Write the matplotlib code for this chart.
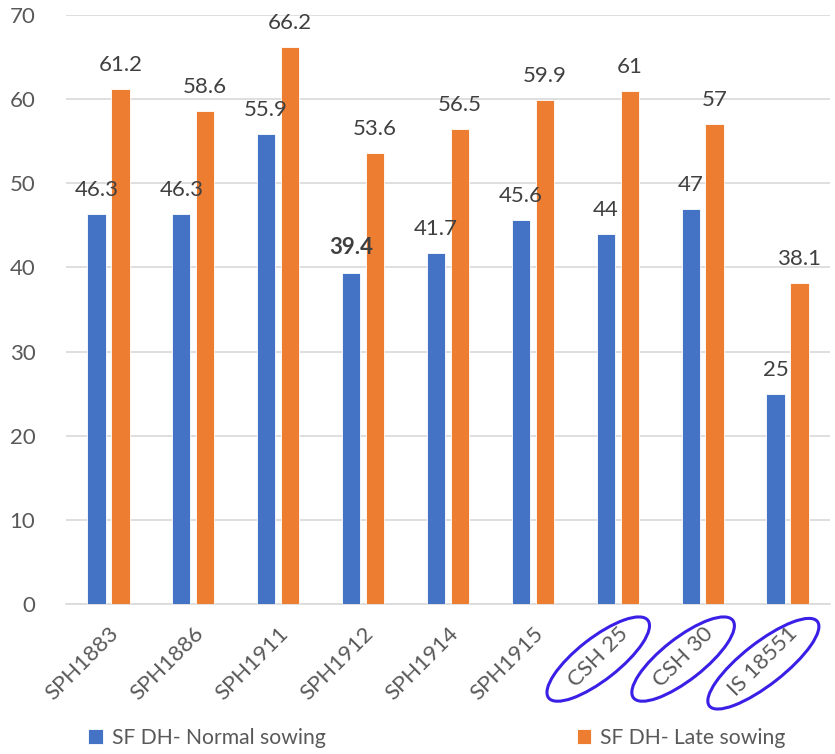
import matplotlib.pyplot as plt
from matplotlib.patches import Ellipse
import numpy as np

plt.rcParams['font.family'] = ['Lato', 'DejaVu Sans']

# data
genotypes = ['SPH1883', 'SPH1886', 'SPH1911', 'SPH1912', 'SPH1914', 'SPH1915',
             'CSH 25', 'CSH 30', 'IS 18551']
normal_sowing = [46.3, 46.3, 55.9, 39.4, 41.7, 45.6, 44, 47, 25]
late_sowing = [61.2, 58.6, 66.2, 53.6, 56.5, 59.9, 61, 57, 38.1]
circled = ['CSH 25', 'CSH 30', 'IS 18551']

blue = '#4472C4'
orange = '#ED7D31'
txt = '#595959'

fig = plt.figure(figsize=(8.35, 7.54), dpi=100)
ax = fig.add_axes([0.079, 0.199, 0.915, 0.781])

x = np.arange(len(genotypes))
w = 0.215
off = 0.141
b1 = ax.bar(x - off, normal_sowing, w, color=blue, edgecolor='white', lw=0.6,
            label='SF DH- Normal sowing', zorder=3)
b2 = ax.bar(x + off, late_sowing, w, color=orange, edgecolor='white', lw=0.6,
            label='SF DH- Late sowing', zorder=3)

for bars, vals in [(b1, normal_sowing), (b2, late_sowing)]:
    for rect, v in zip(bars, vals):
        s = f'{v:g}'
        ax.annotate(s, (rect.get_x() + rect.get_width() / 2, v),
                    xytext=(0, 13), textcoords='offset points',
                    ha='center', va='baseline', fontsize=16, color='#404040',
                    fontweight='bold' if v == 39.4 else 'normal')

ax.set_xlim(-0.5, len(genotypes) - 0.5)
ax.set_ylim(0, 70)
ax.set_yticks(range(0, 71, 10))
ax.yaxis.grid(True, color='#D9D9D9', lw=1.2, zorder=0)
for sp in ['top', 'right', 'left']:
    ax.spines[sp].set_visible(False)
ax.spines['bottom'].set_color('#D9D9D9')
ax.spines['bottom'].set_linewidth(1.2)
ax.tick_params(axis='both', length=0, labelsize=16, colors=txt)
ax.tick_params(axis='y', pad=22)
ax.set_xticks(x)
ax.set_xticklabels(genotypes, rotation=45, ha='right', rotation_mode='anchor')
ax.tick_params(axis='x', pad=14)

fig.legend(loc='lower left', bbox_to_anchor=(0.083, -0.017), ncol=2, frameon=False,
           fontsize=15.2, labelcolor=txt, handlelength=0.7, handleheight=0.7,
           handletextpad=0.4, columnspacing=11.9)

# circle the last three labels
fig.canvas.draw()
for lbl in ax.get_xticklabels():
    if lbl.get_text() in circled:
        bb = lbl.get_window_extent()
        cx, cy = (bb.x0 + bb.x1) / 2, (bb.y0 + bb.y1) / 2
        length = np.hypot(bb.width, bb.height) * 0.85 + 45
        e = Ellipse((cx, cy - 2), length, 42, angle=38, fill=False,
                    edgecolor='#3A1FE6', lw=2.2, transform=None, clip_on=False)
        fig.add_artist(e)

fig.savefig('out.png', dpi=100)
